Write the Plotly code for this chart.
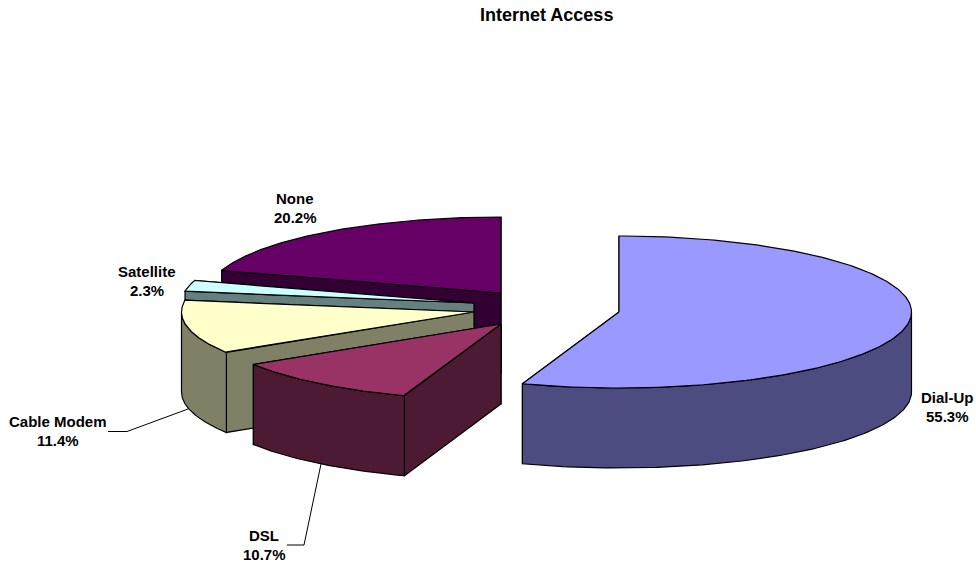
import numpy as np
import plotly.graph_objects as go

categories = ["Dial-Up", "DSL", "Cable Modem", "Satellite", "None"]
shares = [55.3, 10.7, 11.4, 2.3, 20.2]
top_colors = ["#9999FF", "#993366", "#FFFFCC", "#CCFFFF", "#660066"]
side_colors = ["#4C4C80", "#4D1A33", "#808066", "#668080", "#330033"]

# Chart geometry (exploded slice centres on the pixel-like axes)
centers = {"Dial-Up": (619, 312), "DSL": (501, 324), "Cable Modem": (474, 312),
           "Satellite": (474, 303), "None": (501, 293)}
RX, RY, DEPTH = 292.5, 76, 80
label_pos = {"Dial-Up": (947, 397), "DSL": (264, 535.5), "Cable Modem": (58, 421),
             "Satellite": (147, 271), "None": (295, 198)}
leaders = {"Cable Modem": ([108, 127, 188], [431.5, 431.5, 409]),
           "DSL": ([287, 304, 321], [545, 545, 464])}
LINE_GAP = 19
draw_order = ["None", "Satellite", "Cable Modem", "DSL", "Dial-Up"]


def rim(c, deg, drop=0):
    a = np.radians(deg)
    return c[0] + RX * np.sin(a), c[1] - RY * np.cos(a) + drop


# slice angles, clockwise from 12 o'clock, derived from the values
total = sum(shares)
edges = np.concatenate([[0], np.cumsum(shares)]) / total * 360
angles = {n: (edges[i], edges[i + 1]) for i, n in enumerate(categories)}
tops = dict(zip(categories, top_colors))
sides = dict(zip(categories, side_colors))

fig = go.Figure()


def poly(xs, ys, color):
    fig.add_trace(go.Scatter(x=np.round(xs, 2).tolist(), y=np.round(ys, 2).tolist(),
                             mode="lines", fill="toself", fillcolor=color,
                             line=dict(color="black", width=1.2), hoverinfo="skip",
                             showlegend=False))


for name in draw_order:
    c = centers[name]
    a0, a1 = angles[name]
    # radial cut faces: the hidden (far) one first
    for a in (a1, a0):
        px, py = rim(c, a)
        poly([c[0], px, px, c[0], c[0]], [c[1], py, py + DEPTH, c[1] + DEPTH, c[1]], sides[name])
    # outer wall (front half only)
    w0, w1 = max(a0, 90), min(a1, 270)
    if w1 > w0:
        t = np.linspace(w0, w1, 120)
        xs, ys = rim(c, t)
        poly(np.concatenate([xs, xs[::-1], xs[:1]]),
             np.concatenate([ys, ys[::-1] + DEPTH, ys[:1]]), sides[name])
    # top face
    t = np.linspace(a0, a1, 200)
    xs, ys = rim(c, t)
    poly(np.concatenate([[c[0]], xs, [c[0]]]), np.concatenate([[c[1]], ys, [c[1]]]), tops[name])

for name, (lx, ly) in leaders.items():
    fig.add_trace(go.Scatter(x=lx, y=ly, mode="lines", line=dict(color="black", width=1),
                             hoverinfo="skip", showlegend=False))

font = dict(family="Liberation Sans, Arial, sans-serif", size=15, color="black")
for name, share in zip(categories, shares):
    x, y = label_pos[name]
    for k, txt in enumerate([name, f"{share:.1f}%"]):
        fig.add_annotation(x=x, y=y + k * LINE_GAP, text=f"<b>{txt}</b>", showarrow=False,
                           font=font, xanchor="center", yanchor="middle")

fig.add_annotation(x=546, y=15, text="<b>Internet Access</b>", showarrow=False,
                   font=dict(family="Liberation Sans, Arial, sans-serif", size=18, color="black"),
                   xanchor="center", yanchor="middle")

fig.update_layout(width=976, height=564, margin=dict(l=0, r=0, t=0, b=0),
                  paper_bgcolor="white", plot_bgcolor="white", showlegend=False,
                  xaxis=dict(range=[0, 976], visible=False, fixedrange=True),
                  yaxis=dict(range=[564, 0], visible=False, fixedrange=True))
fig.write_html("out.html", config={"displayModeBar": False},
               post_script="document.body.style.margin='0';document.body.style.overflow='hidden';")
